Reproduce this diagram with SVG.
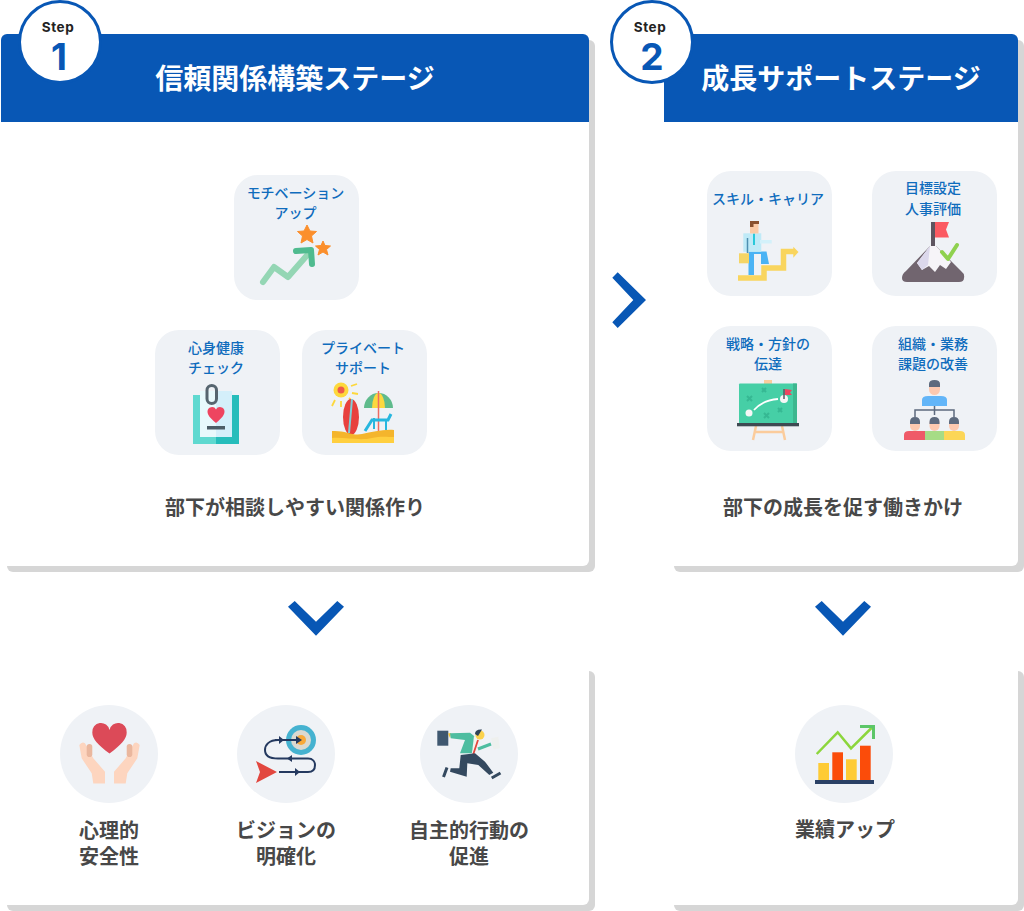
<svg xmlns="http://www.w3.org/2000/svg" width="1024" height="911" viewBox="0 0 1024 911">
<defs>
<style>
text{font-family:"Noto Sans CJK JP","Noto Sans",sans-serif;text-anchor:middle}
.shadow{fill:#d6d6d6}
.card{fill:#fff}
.head{fill:#0857b5}
.title{font-size:28px;font-weight:700;fill:#fff}
.badge{fill:#fff;stroke:#0857b5;stroke-width:3}
.step{font-family:"Inter","Liberation Sans",sans-serif;font-size:13.5px;font-weight:700;letter-spacing:.6px;fill:#222}
.num{font-family:"Inter","Liberation Sans",sans-serif;font-size:37px;font-weight:700;fill:#0857b5}
.tile{fill:#eff2f6}
.lbl{font-size:14px;font-weight:500;fill:#0f6cbd}
.sub{font-size:20px;font-weight:700;fill:#484848}
.chev{fill:#0857b5}
</style>
</defs>

<g id="panel-step1">
<rect class="shadow" x="7" y="40" width="588" height="532" rx="6"/>
<rect class="card" x="1" y="34" width="588" height="532" rx="6"/>
<path class="head" d="M1 122V40a6 6 0 0 1 6-6H583a6 6 0 0 1 6 6V122Z"/>
<text class="title" x="295" y="89">信頼関係構築ステージ</text>
<circle class="badge" cx="60" cy="42" r="40.500"/>
<text class="step" x="58" y="32">Step</text>
<text class="num" x="59" y="70">1</text>
<text class="sub" x="295" y="515">部下が相談しやすい関係作り</text>
</g>

<g id="panel-step2">
<rect class="shadow" x="674" y="40" width="350" height="532" rx="6"/>
<rect class="card" x="664" y="34" width="354" height="532" rx="6"/>
<path class="head" d="M664 122V34H1012a6 6 0 0 1 6 6V122Z"/>
<rect class="card" x="600" y="0" width="64" height="122"/>
<text class="title" x="841" y="89">成長サポートステージ</text>
<circle class="badge" cx="652" cy="42" r="40.500"/>
<text class="step" x="650" y="32">Step</text>
<text class="num" x="652" y="70">2</text>
<text class="sub" x="843" y="515">部下の成長を促す働きかけ</text>
</g>

<g id="result-step1">
<rect class="shadow" x="7" y="671" width="588" height="240" rx="6"/>
<rect class="card" x="0" y="660" width="589" height="245" rx="6"/>
</g>
<g id="result-step2">
<rect class="shadow" x="674" y="671" width="350" height="240" rx="6"/>
<rect class="card" x="664" y="660" width="354" height="245" rx="6"/>
</g>

<g id="connectors">
<polygon class="chev" points="612.300,277.700 617.700,272.300 646,300 617.700,328 612.300,322.300 633.300,300"/>
<polygon class="chev" points="288,606.700 294.700,601 316,621.700 337.300,601 344,606.700 316,635.700"/>
<polygon class="chev" points="815,606.700 821.700,601 843,621.700 864.300,601 871,606.700 843,635.700"/>
</g>

<g id="tile-motivation">
<rect class="tile" x="234" y="175" width="125" height="125" rx="24"/>
<text class="lbl" x="295.500" y="198">モチベーション</text>
<text class="lbl" x="295.500" y="218">アップ</text>
<polyline points="263,282 274,267 288,277 309,253" fill="none" stroke="#94d6b4" stroke-width="6" stroke-linecap="round" stroke-linejoin="round"/>
<polyline points="296,251 311,250 312,264" fill="none" stroke="#4fbb8f" stroke-width="6" stroke-linecap="round" stroke-linejoin="round"/>
<polygon points="307,225 310,231 316.500,231.500 311.500,236 313,243 307,239.500 301,243 302.500,236 297.500,231.500 304,231" fill="#fb8f2c" stroke="#fb8f2c" stroke-linejoin="round"/>
<polygon points="323,241 325,245.500 330.500,246 326.500,249.500 328,255 323,252 318,255 319.500,249.500 315.500,246 321,245.500" fill="#fb8f2c" stroke="#fb8f2c" stroke-linejoin="round"/>
</g>

<g id="tile-health">
<rect class="tile" x="155" y="330" width="125" height="125" rx="24"/>
<text class="lbl" x="216" y="353">心身健康</text>
<text class="lbl" x="216" y="373">チェック</text>
<rect x="193" y="395" width="23" height="49" fill="#5fd9d0"/>
<rect x="216" y="395" width="23" height="49" fill="#26bdbb"/>
<rect x="200" y="391" width="16" height="46" fill="#e8f9fc"/>
<rect x="216" y="391" width="16" height="46" fill="#d4effa"/>
<rect x="207" y="385.500" width="9.500" height="18" rx="4.750" fill="none" stroke="#56656f" stroke-width="3"/>
<path d="M216 423C210 418 207.500 415 207.500 411.500A4.500 4.500 0 0 1 216 409.500A4.500 4.500 0 0 1 224.500 411.500C224.500 415 222 418 216 423Z" fill="#ee4560"/>
<rect x="207" y="426" width="18" height="3.500" fill="#4c5d66"/>
</g>

<g id="tile-private">
<rect class="tile" x="302" y="330" width="125" height="125" rx="24"/>
<text class="lbl" x="363" y="353">プライベート</text>
<text class="lbl" x="363" y="373">サポート</text>
<circle cx="341" cy="390" r="7.500" fill="#fdd83c"/>
<circle cx="341" cy="390" r="3.500" fill="#ee5a4a"/>
<path d="M351 386l6-2M352 393l6 1M349 398l4 4M341 401v6M335 400l-3 6" stroke="#fdd83c" stroke-width="1.800" fill="none"/>
<ellipse cx="351" cy="417" rx="8" ry="18" fill="#e8413e"/>
<line x1="352" y1="399" x2="349" y2="433" stroke="#7fcfd8" stroke-width="2"/>
<path d="M364 408a14.500 15 0 0 1 29 0Z" fill="#5fbb8c"/>
<path d="M372 408a6.500 15 0 0 1 13 0Z" fill="#fbd83f"/>
<line x1="378.500" y1="391" x2="378.500" y2="431" stroke="#ee6b62" stroke-width="1.500"/>
<path d="M365 431l7-11H388l3-6" fill="none" stroke="#27b7df" stroke-width="3"/>
<path d="M374 418v11M386 420v10" fill="none" stroke="#27b7df" stroke-width="2"/>
<path d="M332 431C345 430 352 436 362 434C372 432 384 429 394 430V443H332Z" fill="#f4b52c"/>
<path d="M332 438C345 437 360 441 372 438C380 436 388 437 394 437V443H332Z" fill="#ffcf3f"/>
</g>

<g id="tile-skill">
<rect class="tile" x="707" y="171" width="125" height="125" rx="24"/>
<text class="lbl" x="768" y="204">スキル・キャリア</text>
<path d="M738 278H764V268H783.500V251.500H794" fill="none" stroke="#f9d55e" stroke-width="5.500"/>
<polygon points="793.300,246.700 798.500,252 793.300,257.700" fill="#f9d55e"/>
<path d="M748.500 251.500V275H754V254H761V264H769L766.500 251.500Z" fill="#4ab3f4"/>
<rect x="743.300" y="233.300" width="18" height="18.500" fill="#bfeaf7"/>
<rect x="760" y="240" width="11.700" height="3.500" fill="#d3f1fa"/>
<line x1="754" y1="233.500" x2="754" y2="245" stroke="#18c6d6" stroke-width="1.800"/>
<line x1="747.500" y1="238" x2="747.500" y2="253" stroke="#4f8fb0" stroke-width="1.500"/>
<rect x="750" y="223" width="8.500" height="10.500" fill="#fbcba7"/>
<path d="M750 227V221H759V224H753.500V227Z" fill="#8a5230"/>
<rect x="739" y="253.300" width="10" height="10" fill="#f5d565"/>
</g>

<g id="tile-goal">
<rect class="tile" x="872" y="171" width="125" height="125" rx="24"/>
<text class="lbl" x="933" y="193">目標設定</text>
<text class="lbl" x="933" y="214">人事評価</text>
<path d="M902 278Q902 274 906 271L930 246H936L961 271Q965 274 964 278Q964 282 959 282H907Q902 282 902 278Z" fill="#71656f"/>
<path d="M930 246H936L951 262L946 269L940 265L935 272L929 266L922 270L917 263Z" fill="#f6f4f8"/>
<path d="M930 246L917 263L922 270L928 265Z" fill="#dcd8ec"/>
<rect x="931" y="222" width="4" height="24" fill="#5e5560"/>
<polygon points="935,222 949,222 946,229.500 949,237.500 935,237.500" fill="#fb5a62"/>
<polyline points="942,252 948,259 957,245" fill="none" stroke="#8fd14f" stroke-width="4" stroke-linecap="round" stroke-linejoin="round"/>
</g>

<g id="tile-strategy">
<rect class="tile" x="707" y="326" width="125" height="125" rx="24"/>
<text class="lbl" x="768" y="349">戦略・方針の</text>
<text class="lbl" x="768" y="369">伝達</text>
<path d="M756 426L753 440M782 426L785 440M755 432H783" fill="none" stroke="#fbcc9c" stroke-width="2.500"/>
<rect x="764" y="380" width="8" height="4" fill="#fbcc9c"/>
<rect x="739" y="383.500" width="58" height="40" rx="1" fill="#46cfa6"/>
<rect x="793" y="383.500" width="4" height="40" fill="#3db78f"/>
<rect x="737" y="423" width="62" height="3.300" fill="#3e4a52"/>
<path d="M747 396l5 5m0-5l-5 5M762 388l4 4m0-4l-4 4M764 413l5 5m0-5l-5 5M778 408l4 4m0-4l-4 4" stroke="#36b893" stroke-width="2" fill="none"/>
<circle cx="749" cy="413" r="3.500" fill="#f7f7f7"/>
<path d="M754 410Q763 400 778 399" fill="none" stroke="#fff" stroke-width="1.800"/>
<circle cx="784" cy="399" r="4" fill="#f7f7f7"/>
<line x1="784" y1="389" x2="784" y2="399" stroke="#5e5560" stroke-width="1.500"/>
<polygon points="785,389 792,390 790,392.500 792,395 785,395" fill="#ee4560"/>
</g>

<g id="tile-org">
<rect class="tile" x="872" y="326" width="125" height="125" rx="24"/>
<text class="lbl" x="933" y="349">組織・業務</text>
<text class="lbl" x="933" y="369">課題の改善</text>
<path d="M915 417V410H954V417M934.500 406V415" fill="none" stroke="#5d6a7e" stroke-width="1.500"/>
<path d="M922 406V400Q922 396 928 396H941Q947 396 947 400V406Z" fill="#62b5f8"/>
<rect x="929" y="381" width="11" height="14" rx="5.500" fill="#fdc9b0"/>
<path d="M929 387V384Q929 380 934.500 380Q940 380 940 384V387Z" fill="#5d6a7e"/>
<path d="M904 440V435Q904 431 909 431H925V440Z" fill="#ef5a68"/>
<path d="M925 440V431H944V440Z" fill="#a6dc86"/>
<path d="M944 440V431H960Q965 431 965 435V440Z" fill="#fcd657"/>
<rect x="910" y="418" width="10" height="13" rx="5" fill="#fdc9b0"/>
<rect x="929.500" y="418" width="10" height="13" rx="5" fill="#fdc9b0"/>
<rect x="949" y="418" width="10" height="13" rx="5" fill="#fdc9b0"/>
<path d="M910 424V422Q910 417 915 417Q920 417 920 422V424ZM929.500 424V422Q929.500 417 934.500 417Q939.500 417 939.500 422V424ZM949 424V422Q949 417 954 417Q959 417 959 422V424Z" fill="#5d6a7e"/>
</g>

<g id="outcome-safety">
<circle class="tile" cx="109" cy="754" r="49"/>
<path d="M109.500 753.500C98 745 92.300 739 92.300 732.500A8.700 8.700 0 0 1 109.500 730A8.700 8.700 0 0 1 126.700 732.500C126.700 739 121 745 109.500 753.500Z" fill="#dc4a58"/>
<path d="M79.300 745Q82 741 85 743.300L93.300 758.300L105 771.700V783.500H93.300L91.700 773.300L81.700 758.300Z" fill="#fdd5bf"/>
<path d="M139.700 745Q137 741 134 743.300L125.700 758.300L114 771.700V783.500H125.700L127.300 773.300L137.300 758.300Z" fill="#fdd5bf"/>
<rect x="86.700" y="744" width="5.600" height="13" rx="2.800" fill="#eab79e"/>
<rect x="126.700" y="744" width="5.600" height="13" rx="2.800" fill="#eab79e"/>
</g>

<g id="outcome-vision">
<circle class="tile" cx="286" cy="754" r="49"/>
<path d="M300 740H278C269 740 265 745 265 750C265 755 269 758.500 278 758.500H308C313 758.500 315 762 315 765C315 769 313 772 308 772H279" fill="none" stroke="#24395f" stroke-width="2"/>
<circle cx="301" cy="740" r="15" fill="#45b2d0"/>
<circle cx="301" cy="740" r="10" fill="#dcd9d0"/>
<circle cx="301" cy="740" r="5" fill="#f8a93a"/>
<line x1="275" y1="740" x2="300" y2="740" stroke="#24395f" stroke-width="2"/>
<polygon points="296,736 302,740 296,744" fill="#24395f"/>
<polygon points="279,736 284,740 279,744" fill="#24395f"/>
<polygon points="292,755 287,758.500 292,762" fill="#24395f"/>
<polygon points="295,768 300,772 295,776" fill="#24395f"/>
<polygon points="256,761 277,772 256,783 260,772" fill="#e2473f"/>
</g>

<g id="outcome-action">
<circle class="tile" cx="469" cy="754" r="49"/>
<rect x="437.300" y="730.700" width="11" height="15" fill="#3f5870"/>
<polygon points="448,733.500 450,738 451,733" fill="#f4c430"/>
<polygon points="450,733.300 470,732.700 475,736.700 475,745 471.700,753.300 460,753.300 465,740 450.700,738.300" fill="#4dbda0"/>
<polygon points="474,736 479,738 476,752 472,753" fill="#f3f3ee"/>
<line x1="478" y1="740" x2="473" y2="755" stroke="#e2473f" stroke-width="1.800"/>
<path d="M478 749L491 744" fill="none" stroke="#4dbda0" stroke-width="3"/>
<circle cx="480" cy="735" r="4.500" fill="#fbd24c"/>
<path d="M475 734Q475 729 482 729.500L478 736Z" fill="#2f4358"/>
<polygon points="491,738.300 498.300,736.700 500,748.300 493.300,749.300" fill="#eef0ee"/>
<polygon points="460.700,755 475,753.300 485,761.700 493.300,772.700 489.300,775 478.300,765 467.300,763.300 466.700,776.700 450,771.700 450.700,768.300 459.300,768.300" fill="#34495f"/>
<path d="M447 767.500L443.500 777M491.700 778L500.500 773" stroke="#34495f" stroke-width="3" fill="none"/>
</g>

<g id="outcome-result">
<circle class="tile" cx="844" cy="754" r="49"/>
<rect x="818.300" y="763" width="10.700" height="17" fill="#fecb35"/>
<rect x="832.300" y="752.300" width="10.700" height="27.700" fill="#fb4c0a"/>
<rect x="846" y="759.300" width="10.700" height="20.700" fill="#fecb35"/>
<rect x="860" y="745.700" width="10.700" height="34.300" fill="#fb4c0a"/>
<rect x="815" y="780" width="59" height="4" fill="#2a4065"/>
<polyline points="816.700,754 837.700,732.300 851,748.300 872.500,727" fill="none" stroke="#8cd63c" stroke-width="2.500"/>
<polyline points="860,726.500 873.500,726.500 873.500,739" fill="none" stroke="#5cc668" stroke-width="3"/>
</g>

<g id="outcome-labels">
<text class="sub" x="109" y="838">心理的<tspan x="109" dy="26">安全性</tspan></text>
<text class="sub" x="286" y="838">ビジョンの<tspan x="286" dy="26">明確化</tspan></text>
<text class="sub" x="469" y="838">自主的行動の<tspan x="469" dy="26">促進</tspan></text>
<text class="sub" x="845" y="837">業績アップ</text>
</g>
</svg>
